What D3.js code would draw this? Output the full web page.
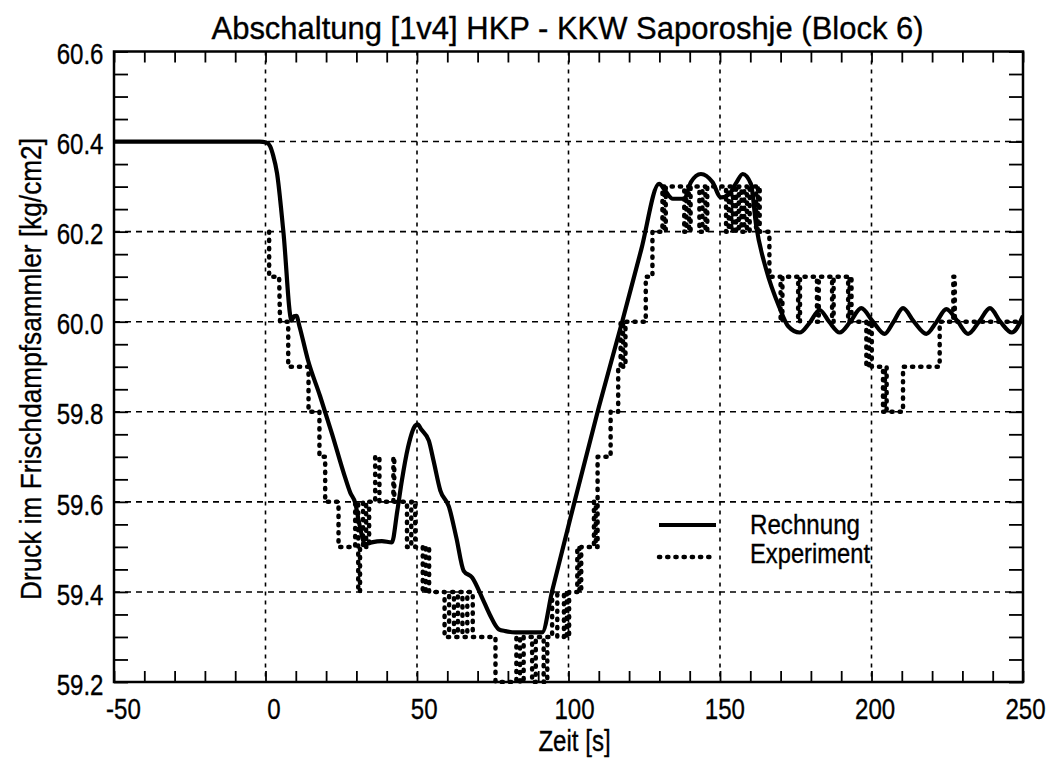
<!DOCTYPE html>
<html>
<head>
<meta charset="utf-8">
<script src="https://cdn.jsdelivr.net/npm/d3@7"></script>
<style>
  html, body { margin: 0; padding: 0; background: #fff; }
  svg { display: block; }
  text { font-family: "Liberation Sans", Arial, sans-serif; fill: #000; stroke: #000; stroke-width: 0.35px; }
</style>
</head>
<body>
<svg id="chart" width="1058" height="759"></svg>
<script>
// Axis ranges and tick values
const xDomain = [-50, 250];
const yDomain = [59.2, 60.6];
const xTickLabels = [-50, 0, 50, 100, 150, 200, 250];
const yTickLabels = [59.2, 59.4, 59.6, 59.8, 60.0, 60.2, 60.4, 60.6];
const xGrid = [0, 50, 100, 150, 200];
const yGrid = [59.4, 59.6, 59.8, 60.0, 60.2, 60.4];

// Rechnung (calculated pressure), [time s, pressure kg/cm2]
const rechnung = [
  [-50, 60.40], [-20, 60.40], [-2, 60.40], [0.3, 60.398], [1.5, 60.39], [2.5, 60.37],
  [3.8, 60.33], [5.9, 60.20], [8.6, 60.003], [9.4, 60.012], [10.2, 60.013], [11.2, 59.99],
  [14, 59.915], [18, 59.835], [22, 59.75], [26, 59.66], [28, 59.62], [29.6, 59.598],
  [31, 59.55], [32.9, 59.506], [35, 59.51], [38.4, 59.513], [41.7, 59.51],
  [43.5, 59.58], [45, 59.647], [47, 59.72], [49.4, 59.769], [50.2, 59.772],
  [51.5, 59.76], [53.9, 59.736], [55.5, 59.69], [57.7, 59.625], [60.5, 59.59],
  [63, 59.52], [65.4, 59.447], [68.2, 59.432], [71.5, 59.387], [74, 59.35],
  [77, 59.317], [79.2, 59.313], [82.5, 59.31], [91.3, 59.31], [94.6, 59.402],
  [101.8, 59.595], [110, 59.81], [117.8, 60.002], [124, 60.16], [129.9, 60.306],
  [132, 60.29], [134.4, 60.273], [138.2, 60.273], [140.4, 60.31], [143.7, 60.328],
  [147.5, 60.31], [150.3, 60.276], [153.1, 60.284], [155.5, 60.31], [157.5, 60.328],
  [160.2, 60.306], [161.9, 60.215], [165.2, 60.117], [169.6, 60.032], [172.5, 59.99],
  [176.3, 59.976], [179.5, 59.997], [182.9, 60.026], [186, 60.0], [189.5, 59.976],
  [193, 60.0], [196.6, 60.03], [200.5, 60.0], [204.3, 59.973], [207.3, 60.0],
  [210.4, 60.03], [214, 60.0], [218.1, 59.973], [221.5, 60.0], [224.7, 60.028],
  [228.5, 60.0], [231.9, 59.973], [235.5, 60.0], [239.1, 60.03], [242.5, 60.0],
  [246.3, 59.976], [250, 60.013]
];

// Experiment (measured pressure, quantised in 0.1 steps), [time s, pressure kg/cm2]
const experiment = [
  [1.2, 60.2], [1.2, 60.1], [4.5, 60.1], [4.8, 60.0], [7.5, 60.0], [7.5, 59.9],
  [14.2, 59.9], [14.2, 59.8], [17.8, 59.8], [17.8, 59.7], [19.7, 59.7], [19.7, 59.6],
  [24.1, 59.6], [24.1, 59.5], [29.6, 59.5], [29.6, 59.6], [30.6, 59.6], [30.6, 59.4],
  [31.2, 59.4], [31.2, 59.5], [32.2, 59.5], [32.2, 59.6], [33.2, 59.6], [33.2, 59.5],
  [34.2, 59.5], [34.2, 59.6], [36.2, 59.6], [36.2, 59.7], [37.6, 59.7], [37.6, 59.6],
  [42.2, 59.6], [42.2, 59.7], [42.5, 59.7], [42.5, 59.6], [46.7, 59.6], [46.7, 59.5],
  [48.1, 59.5], [48.1, 59.6], [49.4, 59.6], [49.4, 59.5], [51.9, 59.5], [51.9, 59.4],
  [52.9, 59.4], [52.9, 59.5], [54.0, 59.5], [54.0, 59.4], [59.1, 59.4], [59.1, 59.3],
  [60.6, 59.3], [60.6, 59.4], [62.2, 59.4], [62.2, 59.3], [63.5, 59.3], [63.5, 59.4],
  [65.0, 59.4], [65.0, 59.3], [66.6, 59.3], [66.6, 59.4], [68.4, 59.4], [68.4, 59.3],
  [75.9, 59.3], [75.9, 59.2], [82.8, 59.2], [82.8, 59.3], [84, 59.3], [84, 59.2],
  [85.2, 59.2], [85.2, 59.3], [88, 59.3], [88, 59.2], [89.2, 59.2], [89.2, 59.3],
  [91.8, 59.3], [91.8, 59.2], [93, 59.2], [93, 59.3], [94.6, 59.3], [94.6, 59.4],
  [96.3, 59.4], [96.3, 59.3], [98.5, 59.3], [98.5, 59.4], [99.4, 59.4], [99.4, 59.3],
  [100.2, 59.3], [100.2, 59.4], [102.9, 59.4], [102.9, 59.5], [103.6, 59.5], [103.6, 59.4],
  [104.2, 59.4], [104.2, 59.5], [108.4, 59.5], [108.4, 59.6], [109.0, 59.6], [109.0, 59.5],
  [109.6, 59.5], [109.6, 59.7], [113.9, 59.7], [113.9, 59.8], [116.4, 59.8], [116.4, 59.9],
  [117.2, 59.9], [117.2, 60.0], [118.0, 60.0], [118.0, 59.9], [118.8, 59.9], [118.8, 60.0],
  [125.5, 60.0], [125.5, 60.1], [127.7, 60.1], [127.7, 60.2], [131, 60.2], [131, 60.3],
  [131.6, 60.3], [131.6, 60.2], [132.1, 60.2], [132.1, 60.3], [138.2, 60.3], [138.2, 60.2],
  [138.9, 60.2], [138.9, 60.3], [139.8, 60.3], [139.8, 60.2], [140.3, 60.2], [140.3, 60.3],
  [143.2, 60.3], [143.2, 60.2], [144.2, 60.2], [144.2, 60.3], [145.2, 60.3], [145.2, 60.2],
  [145.8, 60.2], [145.8, 60.3], [152, 60.3], [152, 60.2], [152.9, 60.2], [152.9, 60.3],
  [153.7, 60.3], [153.7, 60.2], [154.3, 60.2], [154.3, 60.3], [155.3, 60.3], [155.3, 60.2],
  [156.2, 60.2], [156.2, 60.3], [157.1, 60.3], [157.1, 60.2], [158, 60.2], [158, 60.3],
  [158.9, 60.3], [158.9, 60.2], [159.8, 60.2], [159.8, 60.3], [161.9, 60.3], [161.9, 60.2],
  [162.5, 60.2], [162.5, 60.3], [163.1, 60.3], [163.1, 60.2], [166.3, 60.2], [166.3, 60.1],
  [170, 60.1], [170, 60.0], [170.6, 60.0], [170.6, 60.1], [175.8, 60.1], [175.8, 60.0],
  [176.4, 60.0], [176.4, 60.1], [182, 60.1], [182, 60.0], [182.6, 60.0], [182.6, 60.1],
  [187, 60.1], [187, 60.0], [187.5, 60.0], [187.5, 60.1], [192.3, 60.1], [192.3, 60.0],
  [192.8, 60.0], [192.8, 60.1], [193.4, 60.1], [193.4, 60.0], [198.3, 60.0], [198.3, 59.9],
  [199.2, 59.9], [199.2, 60.0], [200.1, 60.0], [200.1, 59.9], [203.8, 59.9], [203.8, 59.8],
  [204.4, 59.8], [204.4, 59.9], [205, 59.9], [205, 59.8], [210.4, 59.8], [210.4, 59.9],
  [222.5, 59.9], [222.5, 60.0], [227, 60.0], [227, 60.1], [227.5, 60.1], [227.5, 60.0],
  [250, 60.0]
];

const seriesNames = ["Rechnung", "Experiment"];
const titleText = "Abschaltung [1v4] HKP - KKW Saporoshje (Block 6)";
const xLabel = "Zeit [s]";
const yLabel = "Druck im Frischdampfsammler [kg/cm2]";

// Layout
const plot = { left: 114, right: 1023, top: 51.5, bottom: 682 };
const svg = d3.select("#chart");

const x = d3.scaleLinear().domain(xDomain).range([plot.left, plot.right]);
const y = d3.scaleLinear().domain(yDomain).range([plot.bottom, plot.top]);
// the bottom tick labels sit slightly right of the ticks
const xLabelPos = d3.scaleLinear().domain(xDomain).range([plot.left + 9, plot.right + 2]);

// condense a text element horizontally to a fraction of its natural width
function condense(sel, factor) {
  sel.each(function () {
    const w = this.getComputedTextLength();
    d3.select(this).attr("textLength", w * factor).attr("lengthAdjust", "spacingAndGlyphs");
  });
}

// Grid
const grid = svg.append("g").attr("stroke", "#000").attr("stroke-width", 1.6).attr("fill", "none");
grid.selectAll("line.h").data(yGrid).join("line")
  .attr("class", "h")
  .attr("x1", plot.left).attr("x2", plot.right)
  .attr("y1", d => y(d)).attr("y2", d => y(d))
  .attr("stroke-dasharray", "6,5");
grid.selectAll("line.v").data(xGrid).join("line")
  .attr("class", "v")
  .attr("y1", plot.top).attr("y2", plot.bottom)
  .attr("x1", d => x(d)).attr("x2", d => x(d))
  .attr("stroke-dasharray", "4,5");

// Minor ticks on all four sides, pointing inward
const xMinor = d3.range(-50, 251, 10);
const yMinor = d3.range(0, 29).map(i => +(59.2 + i * 0.05).toFixed(2));

function styleTicks(g) {
  g.select(".domain").remove();
  g.selectAll(".tick line").attr("stroke", "#000").attr("stroke-width", 1.8);
  g.selectAll(".tick text").remove();
}
svg.append("g").attr("transform", `translate(0,${plot.bottom})`)
  .call(d3.axisBottom(x).tickValues(xMinor).tickSize(-11).tickFormat(""))
  .call(styleTicks);
svg.append("g").attr("transform", `translate(0,${plot.top})`)
  .call(d3.axisTop(x).tickValues(xMinor).tickSize(-11).tickFormat(""))
  .call(styleTicks);
svg.append("g").attr("transform", `translate(${plot.left},0)`)
  .call(d3.axisLeft(y).tickValues(yMinor).tickSize(-14).tickFormat(""))
  .call(styleTicks);
svg.append("g").attr("transform", `translate(${plot.right},0)`)
  .call(d3.axisRight(y).tickValues(yMinor).tickSize(-14).tickFormat(""))
  .call(styleTicks);

// Tick labels
const xAxisLabels = svg.append("g").attr("transform", `translate(0,${plot.bottom})`)
  .call(d3.axisBottom(xLabelPos).tickValues(xTickLabels).tickSize(0).tickPadding(16.5).tickFormat(d => String(d)));
xAxisLabels.select(".domain").remove();
xAxisLabels.selectAll("text").attr("font-size", 29).attr("font-family", "Liberation Sans, Arial, sans-serif").attr("fill", "#000");
condense(xAxisLabels.selectAll("text"), 0.83);

const yAxisLabels = svg.append("g").attr("transform", `translate(${plot.left},0)`)
  .call(d3.axisLeft(y).tickValues(yTickLabels).tickSize(0).tickPadding(10.5).tickFormat(d3.format(".1f")));
yAxisLabels.select(".domain").remove();
yAxisLabels.selectAll("text").attr("font-size", 29).attr("dy", "0.42em")
  .attr("font-family", "Liberation Sans, Arial, sans-serif").attr("fill", "#000");
condense(yAxisLabels.selectAll("text"), 0.83);

// Clip for data lines
svg.append("clipPath").attr("id", "plotclip").append("rect")
  .attr("x", plot.left).attr("y", plot.top - 2)
  .attr("width", plot.right - plot.left).attr("height", plot.bottom - plot.top + 4);

const lineSmooth = d3.line().x(d => x(d[0])).y(d => y(d[1])).curve(d3.curveMonotoneX);
const lineStep = d3.line().x(d => x(d[0])).y(d => y(d[1]));

const dataG = svg.append("g").attr("clip-path", "url(#plotclip)");
dataG.append("path").datum(experiment)
  .attr("d", lineStep)
  .attr("fill", "none").attr("stroke", "#000").attr("stroke-width", 4.5)
  .attr("stroke-dasharray", "1.2,7").attr("stroke-linecap", "round").attr("stroke-linejoin", "round");
dataG.append("path").datum(rechnung)
  .attr("d", lineSmooth)
  .attr("fill", "none").attr("stroke", "#000").attr("stroke-width", 4.2)
  .attr("stroke-linejoin", "round");

// Frame
svg.append("rect")
  .attr("x", plot.left).attr("y", plot.top)
  .attr("width", plot.right - plot.left).attr("height", plot.bottom - plot.top)
  .attr("fill", "none").attr("stroke", "#000").attr("stroke-width", 2.5);

// Title and axis titles
svg.append("text").attr("x", 211.5).attr("y", 38.5)
  .attr("font-size", 32).attr("textLength", 712).attr("lengthAdjust", "spacingAndGlyphs")
  .text(titleText);

svg.append("text").attr("x", 574.5).attr("y", 751)
  .attr("text-anchor", "middle").attr("font-size", 29)
  .text(xLabel)
  .call(condense, 0.83);

svg.append("text")
  .attr("transform", "translate(41,369) rotate(-90)")
  .attr("text-anchor", "middle").attr("font-size", 30)
  .attr("textLength", 462).attr("lengthAdjust", "spacingAndGlyphs")
  .text(yLabel);

// Legend
const legend = svg.append("g");
const legendRows = [
  { name: seriesNames[0], ly: 525, ty: 533.5, dash: null, width: 4.2, len: 110 },
  { name: seriesNames[1], ly: 557, ty: 563, dash: "1.2,7", width: 4.5, len: 120 }
];
legendRows.forEach(r => {
  const ln = legend.append("line")
    .attr("x1", 659).attr("x2", 716).attr("y1", r.ly).attr("y2", r.ly)
    .attr("stroke", "#000").attr("stroke-width", r.width);
  if (r.dash) ln.attr("stroke-dasharray", r.dash).attr("stroke-linecap", "round");
  legend.append("text").attr("x", 750).attr("y", r.ty)
    .attr("font-size", 27).attr("textLength", r.len).attr("lengthAdjust", "spacingAndGlyphs")
    .text(r.name);
});
</script>
</body>
</html>
